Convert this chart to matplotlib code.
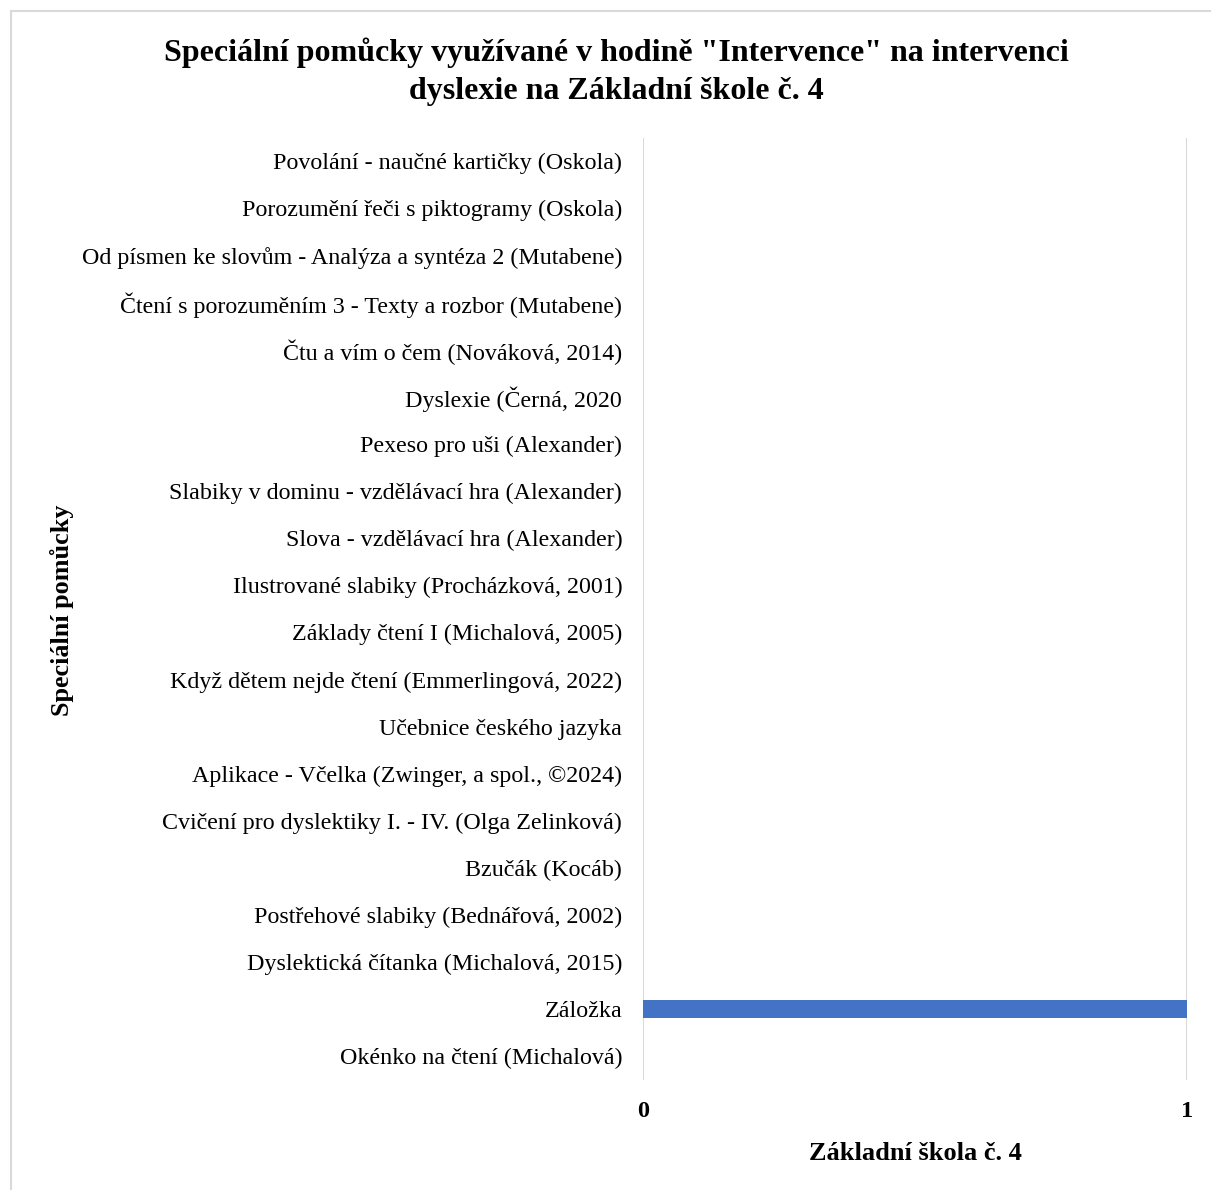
import matplotlib
matplotlib.use("Agg")
import matplotlib.pyplot as plt
from matplotlib.patches import Rectangle

categories = [
    "Okénko na čtení (Michalová)",
    "Záložka",
    "Dyslektická čítanka (Michalová, 2015)",
    "Postřehové slabiky (Bednářová, 2002)",
    "Bzučák (Kocáb)",
    "Cvičení pro dyslektiky I. - IV. (Olga Zelinková)",
    "Aplikace - Včelka (Zwinger, a spol., ©2024)",
    "Učebnice českého jazyka",
    "Když dětem nejde čtení (Emmerlingová, 2022)",
    "Základy čtení I (Michalová, 2005)",
    "Ilustrované slabiky (Procházková, 2001)",
    "Slova - vzdělávací hra (Alexander)",
    "Slabiky v dominu - vzdělávací hra (Alexander)",
    "Pexeso pro uši (Alexander)",
    "Dyslexie (Černá, 2020",
    "Čtu a vím o čem (Nováková, 2014)",
    "Čtení s porozuměním 3 - Texty a rozbor (Mutabene)",
    "Od písmen ke slovům - Analýza a syntéza 2 (Mutabene)",
    "Porozumění řeči s piktogramy (Oskola)",
    "Povolání - naučné kartičky (Oskola)",
]
values = [0, 1, 0, 0, 0, 0, 0, 0, 0, 0, 0, 0, 0, 0, 0, 0, 0, 0, 0, 0]
xticks = [0, 1]
title_lines = ["Speciální pomůcky využívané v hodině \"Intervence\" na intervenci",
               "dyslexie na Základní škole č. 4"]

plt.rcParams['font.family'] = ['Liberation Serif', 'DejaVu Serif']

W, H = 1211, 1190
fig = plt.figure(figsize=(W / 100, H / 100), dpi=100)

# outer border
fig.patches.append(Rectangle((11 / W, -0.01), 1.05, (H - 11) / H + 0.01,
                             transform=fig.transFigure, fill=False,
                             edgecolor='#D9D9D9', linewidth=1.5))

left, right = 643 / W, 1187 / W
top, bottom = 1 - 137.5 / H, 1 - 1080 / H
ax = fig.add_axes([left, bottom, right - left, top - bottom])

y = list(range(len(categories)))
ax.barh(y, values, height=0.38, color='#4472C4', zorder=3)
ax.set_ylim(-0.5, len(categories) - 0.5)
ax.set_xlim(0, 1)
ax.set_yticks(y)
ax.set_yticklabels(categories, fontsize=17.3)
ax.set_xticks(xticks)
ax.set_xticklabels([str(t) for t in xticks], fontsize=17.5, fontweight='bold')
ax.tick_params(axis='both', length=0)
ax.tick_params(axis='y', pad=15)
ax.tick_params(axis='x', pad=15)
for s in ax.spines.values():
    s.set_visible(False)
ax.grid(axis='x', color='#D9D9D9', linewidth=1.5, zorder=0)
ax.set_axisbelow(True)

fig.text(915 / W, 1 - 1153 / H, "Základní škola č. 4", fontsize=19,
         fontweight='bold', ha='center', va='center')
fig.text(62 / W, 1 - 610 / H, "Speciální pomůcky", rotation=90, fontsize=18.8,
         fontweight='bold', ha='center', va='center')

fig.text(616 / W, 1 - 53 / H, title_lines[0],
         fontsize=23, fontweight='bold', ha='center', va='center')
fig.text(616 / W, 1 - 91 / H, title_lines[1],
         fontsize=23, fontweight='bold', ha='center', va='center')

fig.savefig("out.png", dpi=100)
